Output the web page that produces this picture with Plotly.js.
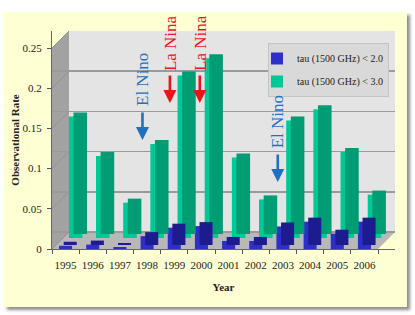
<!DOCTYPE html>
<html>
<head>
<meta charset="utf-8">
<script src="https://cdn.plot.ly/plotly-3.0.1.min.js"></script>
<style>
  html, body { margin: 0; padding: 0; background: #ffffff; width: 415px; height: 315px; overflow: hidden; }
  #chart { position: absolute; left: 4px; top: 12px; width: 403px; height: 295px;
           box-shadow: 3px 3px 3px #8c8c8c; }
</style>
</head>
<body>
<div id="chart"></div>
<script>
// ---- data ----
const years = ['1995','1996','1997','1998','1999','2000','2001','2002','2003','2004','2005','2006'];
const rateTauLt2 = [0.004, 0.0055, 0.0025, 0.016, 0.0265, 0.0285, 0.010, 0.010, 0.028, 0.034, 0.019, 0.034];
const rateTauLt3 = [0.151, 0.102, 0.044, 0.117, 0.202, 0.2235, 0.100, 0.048, 0.146, 0.160, 0.107, 0.054];
const seriesNames = ['tau (1500 GHz) < 2.0', 'tau (1500 GHz) < 3.0'];
const yTicks = [0, 0.05, 0.1, 0.15, 0.2, 0.25];
const yTickText = ['0', '0.05', '0.1', '0.15', '0.2', '0.25'];
const eventLabels = ['El Nino', 'La Nina', 'La Nina', 'El Nino'];

// ---- pseudo-3D geometry (pixels) ----
const PX_PER_UNIT = 804;          // front axis scale
const plotH = 218;
const yTop = plotH / PX_PER_UNIT;
const backDepth = 17;             // back wall offset
const greenDepth = 11;            // back row of bars offset
const sideDepth = 4;              // bar extrusion
const shift = px => px / PX_PER_UNIT;
const rng = px => [-shift(px), yTop - shift(px)];

const yellow = '#FFFFD4';
const serif = 'Liberation Serif, Times New Roman, serif';
const hiddenY = (px) => ({ overlaying: 'y', range: rng(px), visible: false, fixedrange: true });

const traces = [
  { type: 'bar', x: years, y: rateTauLt3, yaxis: 'y4', offset: 0.29, width: 0.5,
    marker: { color: '#009C74' }, showlegend: false, hoverinfo: 'skip' },
  { type: 'bar', x: years, y: rateTauLt3, yaxis: 'y3', offset: 0.12, width: 0.5,
    name: seriesNames[1], legendrank: 2, legendgroup: 'g3',
    marker: { color: '#00C896', line: { width: 0 } } },
  { type: 'bar', x: years, y: rateTauLt2, yaxis: 'y5', offset: -0.07, width: 0.48,
    marker: { color: '#1C1C8E' }, showlegend: false, hoverinfo: 'skip' },
  { type: 'bar', x: years, y: rateTauLt2, yaxis: 'y', offset: -0.24, width: 0.48,
    name: seriesNames[0], legendrank: 1, legendgroup: 'g2',
    marker: { color: '#2E2EC8', line: { width: 0 } } }
];

// chart walls (decoration)
const xp = px => (px - 52) / 343;
const yp = py => (249 - py) / plotH;
const bx = xp(52 + backDepth);
const shapes = [
  { type: 'rect', xref: 'paper', yref: 'paper', x0: bx, x1: 1, y0: yp(249 - backDepth), y1: 1,
    fillcolor: '#E4E4E4', line: { width: 0 }, layer: 'below' },
  { type: 'path', xref: 'paper', yref: 'paper', layer: 'between',
    path: `M0,${yp(249 - 201)} L${bx},1 L${bx},${yp(249 - backDepth)} L0,0 Z`,
    fillcolor: '#A2A2A2', line: { width: 0 } },
  { type: 'path', xref: 'paper', yref: 'paper', layer: 'between',
    path: `M0,0 L${bx},${yp(249 - backDepth)} L1,${yp(249 - backDepth)} L${xp(378)},0 Z`,
    fillcolor: '#B8B8B8', line: { width: 0 } }
];
yTicks.forEach(t => {
  shapes.push({ type: 'line', xref: 'paper', yref: 'y', layer: 'between',
    x0: 0, y0: t, x1: bx, y1: t + shift(backDepth),
    line: { color: '#909090', width: 1 } });
});

// El Nino / La Nina markers
const eventX = [2.83, 3.84, 4.94, 7.81];
const eventTextY = [0.2108, 0.256, 0.256, 0.1586];
const eventTipY = [0.1356, 0.1816, 0.1816, 0.0833];
const eventColor = ['#1F6FC2', '#E8141B', '#E8141B', '#1F6FC2'];
const annotations = [];
eventLabels.forEach((lab, i) => {
  annotations.push({ x: eventX[i], y: eventTextY[i], xref: 'x', yref: 'y', text: lab,
    showarrow: false, textangle: -90, font: { family: serif, size: 17, color: eventColor[i] } });
  annotations.push({ x: eventX[i], y: eventTipY[i], xref: 'x', yref: 'y', text: '',
    showarrow: true, ax: 0, ay: -29, arrowhead: 2, arrowsize: 1, arrowwidth: 2.6,
    arrowcolor: eventColor[i] });
});

const layout = {
  width: 403, height: 295,
  margin: { l: 48, r: 12, t: 19, b: 58 },
  paper_bgcolor: yellow, plot_bgcolor: yellow,
  barmode: 'overlay',
  showlegend: true,
  legend: { x: xp(268), y: yp(43), xanchor: 'left', yanchor: 'top',
    bgcolor: '#D9D9D9', bordercolor: '#C4C4C4', borderwidth: 1,
    font: { family: serif, size: 10, color: '#222' }, indentation: -12,
    traceorder: 'grouped', tracegroupgap: 4, itemwidth: 30 },
  xaxis: { type: 'category', range: [-0.5, 11.5 + 17 / 27.2], tickson: 'boundaries',
    tickangle: 0, automargin: false,
    ticks: 'outside', ticklen: 4, tickcolor: '#555', showline: true, linecolor: '#666', linewidth: 1,
    showgrid: false, fixedrange: true, ticklabelstandoff: 6,
    tickfont: { family: serif, size: 11, color: '#222' },
    title: { text: '<b>Year</b>', font: { family: serif, size: 11, color: '#222' }, standoff: 13 } },
  yaxis: { range: [0, yTop], tickvals: yTicks, ticktext: yTickText, ticks: 'outside', ticklen: 4,
    automargin: false,
    tickcolor: '#555', showline: true, linecolor: '#666', linewidth: 1, showgrid: false,
    zeroline: false, fixedrange: true, ticklabelstandoff: 3,
    tickfont: { family: serif, size: 11, color: '#222' },
    title: { text: '<b>Observational Rate</b>', font: { family: serif, size: 11, color: '#222' }, standoff: 0 } },
  yaxis2: { overlaying: 'y', range: rng(backDepth), tickvals: yTicks, showgrid: true,
    gridcolor: '#9A9A9A', gridwidth: 1.5, showticklabels: false, ticks: '', zeroline: false,
    showline: false, fixedrange: true, automargin: false },
  yaxis3: hiddenY(greenDepth),
  yaxis4: hiddenY(greenDepth + sideDepth),
  yaxis5: hiddenY(sideDepth),
  shapes: shapes,
  annotations: annotations
};
// invisible anchor so the back-wall grid axis is drawn
traces.push({ type: 'scatter', x: [years[0]], y: [0], yaxis: 'y2', mode: 'markers',
  marker: { opacity: 0 }, showlegend: false, hoverinfo: 'skip' });

Plotly.newPlot('chart', traces, layout, { staticPlot: true, displayModeBar: false });
</script>
</body>
</html>
